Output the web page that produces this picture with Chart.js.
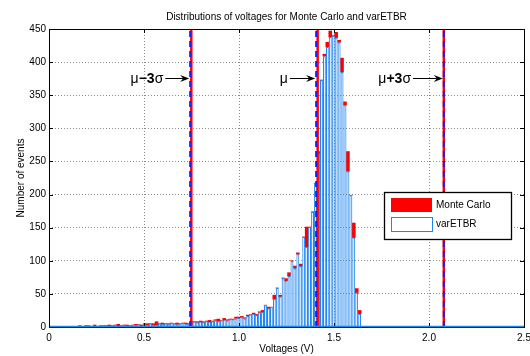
<!DOCTYPE html>
<html>
<head>
<meta charset="utf-8">
<script src="https://cdn.jsdelivr.net/npm/chart.js@4.4.0/dist/chart.umd.min.js"></script>
<style>
html, body { margin: 0; padding: 0; background: #fff; }
</style>
</head>
<body>
<canvas id="histChart" width="530" height="356"></canvas>
<script>
// histogram bins (V)
const binStart = 0;
const binWidth = 0.0155;

const varEtbrCounts = [
    1, 0, 1, 1, 0, 1, 0, 1, 1, 0,
    1, 1, 2, 1, 1, 2, 1, 2, 1, 2,
    2, 1, 3, 2, 2, 3, 2, 2, 3, 3, 4, 2,
    4, 3, 5, 3, 3, 5, 4, 5, 4, 6, 5, 4, 5, 6, 5, 4,
    7, 8, 7, 8, 7, 9, 8, 9, 10, 9, 10, 11, 10, 12, 12, 13,
    14, 15, 13, 17, 19, 20, 18, 22,
    23, 33, 28, 30, 42, 59, 46, 74, 70, 77, 100, 89, 110, 92, 136, 121, 151, 174, 217, 262,
    373, 409, 423, 438, 440, 437, 430, 385, 335, 235, 199, 135, 52, 20
];

const monteCarloCounts = [
    1, 1, 0, 1, 1, 0, 1, 1, 0, 1,
    2, 1, 1, 2, 1, 3, 1, 1, 2, 2,
    3, 2, 2, 4, 1, 2, 3, 2, 2, 4, 3, 3,
    5, 5, 4, 5, 8, 4, 6, 5, 5, 6, 4, 6, 5, 5, 6, 5,
    8, 7, 8, 9, 8, 8, 10, 9, 11, 12, 10, 13, 11, 11, 12, 15,
    15, 16, 14, 18, 18, 21, 19, 23,
    25, 31, 30, 29, 48, 56, 48, 72, 73, 82, 96, 92, 112, 95, 133, 151, 148, 172, 215, 265,
    370, 412, 430, 447, 436, 445, 433, 406, 340, 265, 195, 157, 58, 25
];

const xTicks = [0, 0.5, 1, 1.5, 2, 2.5];
const yTicks = [0, 50, 100, 150, 200, 250, 300, 350, 400, 450];

// mu-3sigma, mu, mu+3sigma for both methods
const markLabels = [['μ', '−3', 'σ'], ['μ'], ['μ', '+3', 'σ']];
const monteCarloMarks = [0.749, 1.414, 2.078];
const varEtbrMarks = [0.743, 1.406, 2.078];
const arrowStart = [0.612, 1.268, 1.916];
const arrowLevel = 376;

const FONT = '"Liberation Sans", Arial, Helvetica, sans-serif';
const RED = '#ff0000';
const BLUE_EDGE = '#1f86f0';
const BLUE_LINE = '#1a1aff';

Chart.defaults.font.family = FONT;
Chart.defaults.color = '#000';

function binCenter(i) {
    return binStart + (i + 0.5) * binWidth;
}

const etbrData = varEtbrCounts.map((c, i) => ({x: binCenter(i), y: c}));
// red only shows where Monte Carlo is above varETBR (varETBR is drawn on top)
const mcData = monteCarloCounts.map((c, i) => ({x: binCenter(i), y: [varEtbrCounts[i], Math.max(c, varEtbrCounts[i])]}));

let datasets = [];

// dashed varETBR lines on top, red MC lines under them
varEtbrMarks.forEach(function (m) {
    datasets.push({
        type: 'line',
        data: [{x: m, y: 0}, {x: m, y: 450}],
        borderColor: BLUE_LINE,
        borderWidth: 2,
        borderDash: [6, 4],
        pointRadius: 0,
        fill: false,
        order: 0
    });
});
monteCarloMarks.forEach(function (m) {
    datasets.push({
        type: 'line',
        data: [{x: m, y: 0}, {x: m, y: 450}],
        borderColor: RED,
        borderWidth: 2.5,
        pointRadius: 0,
        fill: false,
        order: 1
    });
});

datasets.push({
    label: 'varETBR',
    data: etbrData,
    backgroundColor: '#ffffff',
    borderColor: BLUE_EDGE,
    borderWidth: 1.15,
    inflateAmount: 0,
    barPercentage: 1,
    categoryPercentage: 1,
    grouped: false,
    order: 2
});
datasets.push({
    label: 'Monte Carlo',
    data: mcData,
    backgroundColor: RED,
    borderWidth: 0,
    barPercentage: 1,
    categoryPercentage: 1,
    grouped: false,
    order: 3
});

function drawArrow(ctx, x0, x1, yy) {
    ctx.beginPath();
    ctx.moveTo(x0, yy);
    ctx.lineTo(x1 - 6, yy);
    ctx.stroke();
    ctx.beginPath();
    ctx.moveTo(x1, yy);
    ctx.lineTo(x1 - 9, yy - 3.5);
    ctx.lineTo(x1 - 6, yy);
    ctx.lineTo(x1 - 9, yy + 3.5);
    ctx.closePath();
    ctx.fill();
}

const matlabDecor = {
    id: 'matlabDecor',
    afterDraw(chart) {
        const ctx = chart.ctx;
        const a = chart.chartArea;
        const x = chart.scales.x;
        const y = chart.scales.y;
        ctx.save();

        // inward ticks
        ctx.strokeStyle = '#000';
        ctx.lineWidth = 1;
        ctx.beginPath();
        xTicks.forEach(function (v) {
            const px = Math.round(x.getPixelForValue(v)) + 0.5;
            ctx.moveTo(px, a.bottom); ctx.lineTo(px, a.bottom - 4);
            ctx.moveTo(px, a.top); ctx.lineTo(px, a.top + 4);
        });
        yTicks.forEach(function (v) {
            const py = Math.round(y.getPixelForValue(v)) + 0.5;
            ctx.moveTo(a.left, py); ctx.lineTo(a.left + 4, py);
            ctx.moveTo(a.right, py); ctx.lineTo(a.right - 4, py);
        });
        ctx.stroke();

        // axes box
        ctx.strokeRect(Math.round(a.left) + 0.5, Math.round(a.top) + 0.5,
            Math.round(a.right) - Math.round(a.left), Math.round(a.bottom) - Math.round(a.top));

        // bar baseline
        ctx.strokeStyle = BLUE_EDGE;
        ctx.lineWidth = 1.5;
        ctx.beginPath();
        ctx.moveTo(a.left + 1, Math.round(a.bottom) - 0.5);
        ctx.lineTo(a.right, Math.round(a.bottom) - 0.5);
        ctx.stroke();

        // mu / sigma annotations
        ctx.strokeStyle = '#000';
        ctx.fillStyle = '#000';
        ctx.lineWidth = 1;
        ctx.textBaseline = 'middle';
        const ay = y.getPixelForValue(arrowLevel);
        markLabels.forEach(function (parts, i) {
            const x0 = x.getPixelForValue(arrowStart[i]);
            const x1 = x.getPixelForValue(varEtbrMarks[i]) - 1;
            let widths = parts.map(function (p, k) {
                ctx.font = (k === 1 ? 'bold ' : '') + '14px ' + FONT;
                return ctx.measureText(p).width;
            });
            let tx = x0 - 2 - widths.reduce((s, w) => s + w, 0);
            parts.forEach(function (p, k) {
                ctx.font = (k === 1 ? 'bold ' : '') + '14px ' + FONT;
                ctx.textAlign = 'left';
                ctx.fillText(p, tx, ay + 1);
                tx += widths[k];
            });
            drawArrow(ctx, x0, x1, Math.round(ay) + 0.5);
        });

        // legend box
        const lx = Math.round(a.right) - 140;
        const ly = Math.round(a.top) + 163;
        ctx.fillStyle = '#fff';
        ctx.fillRect(lx, ly, 127, 47);
        ctx.strokeStyle = '#000';
        ctx.lineWidth = 1.3;
        ctx.strokeRect(lx + 0.5, ly + 0.5, 127, 47);
        ctx.fillStyle = RED;
        ctx.fillRect(lx + 7, ly + 6, 41, 14);
        ctx.strokeStyle = BLUE_EDGE;
        ctx.lineWidth = 1;
        ctx.strokeRect(lx + 7.5, ly + 25.5, 41, 14);
        ctx.fillStyle = '#000';
        ctx.font = '10px ' + FONT;
        ctx.textAlign = 'left';
        ctx.fillText('Monte Carlo', lx + 52, ly + 13.5);
        ctx.fillText('varETBR', lx + 52, ly + 32.5);

        ctx.restore();
    }
};

const histChart = new Chart(document.getElementById('histChart').getContext('2d'), {
    type: 'bar',
    data: {datasets: datasets},
    options: {
        responsive: false,
        animation: false,
        layout: {padding: {left: 0, right: 6, top: 0, bottom: 0}},
        plugins: {
            legend: {display: false},
            tooltip: {enabled: false},
            title: {
                display: true,
                text: 'Distributions of voltages for Monte Carlo and varETBR',
                font: {size: 10, weight: 'normal'},
                color: '#000',
                padding: {top: 11, bottom: 6},
                fullSize: false
            }
        },
        scales: {
            x: {
                type: 'linear',
                min: 0,
                max: 2.5,
                offset: false,
                grid: {color: '#8c8c8c', drawTicks: false, offset: false},
                border: {display: false, dash: [1, 2]},
                ticks: {font: {size: 10}, color: '#000', padding: 5, maxRotation: 0, autoSkip: false},
                afterBuildTicks: function (s) { s.ticks = xTicks.map(v => ({value: v})); },
                title: {display: true, text: 'Voltages (V)', font: {size: 10}, color: '#000', padding: {top: 0, bottom: 1}},
                afterFit: function (s) { s.height = 29; s.paddingLeft = 0; s.paddingRight = 0; }
            },
            y: {
                min: 0,
                max: 450,
                grid: {color: '#8c8c8c', drawTicks: false},
                border: {display: false, dash: [1, 2]},
                ticks: {font: {size: 10}, color: '#000', padding: 3},
                afterBuildTicks: function (s) { s.ticks = yTicks.map(v => ({value: v})); },
                title: {display: true, text: 'Number of events', font: {size: 10}, color: '#000', padding: {top: 15, bottom: 0}},
                afterFit: function (s) { s.width = 49; s.paddingTop = 0; s.paddingBottom = 0; }
            }
        }
    },
    plugins: [matlabDecor]
});
</script>
</body>
</html>
